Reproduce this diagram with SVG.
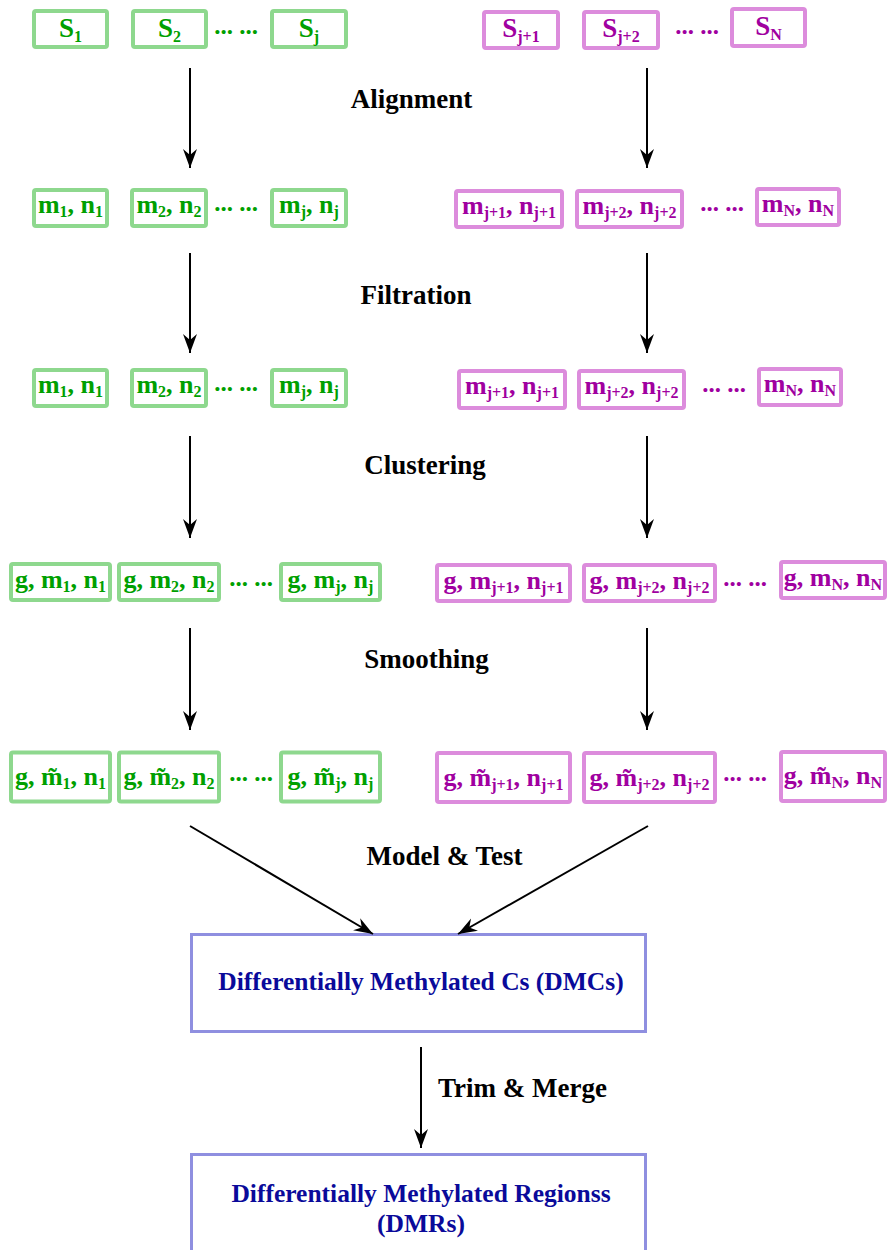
<svg xmlns="http://www.w3.org/2000/svg" width="888" height="1250" viewBox="0 0 888 1250">
<style>
text{font-family:"Liberation Serif","Times New Roman",serif;font-weight:bold}
.g rect{fill:#fff;stroke:#8ed88e;stroke-width:4}
.g text{fill:#00a000;font-size:26px;text-anchor:middle}
.p rect{fill:#fff;stroke:#dc8cdc;stroke-width:4}
.p text{fill:#a000a0;font-size:26px;text-anchor:middle}
.s{font-size:16px}
.big{font-size:27px !important}
.b rect{fill:#fff;stroke:#8f8fe0;stroke-width:3}
.b text{fill:#0a0a9a;font-size:25.5px;text-anchor:middle}
.lab{fill:#000;font-size:27px;text-anchor:middle}
.dg{fill:#00a000;font-size:25px;text-anchor:middle}
.dp{fill:#a000a0;font-size:25px;text-anchor:middle}
.c line{stroke:#000;stroke-width:2;marker-end:url(#ah)}
</style>
<defs>
<marker id="ah" markerUnits="userSpaceOnUse" viewBox="-20 -8 22 16" refX="0" refY="0" markerWidth="22" markerHeight="16" orient="auto">
<path d="M0,0 L-19,-7 L-13,0 L-19,7 Z" fill="#000"/>
</marker>
</defs>
<rect width="888" height="1250" fill="#fff"/>

<!-- Row 1 -->
<g id="s1" class="g"><rect x="34" y="11" width="73" height="36" rx="2"/><text class="big" x="70.5" y="37">S<tspan class="s" dy="5">1</tspan></text></g>
<g id="s2" class="g"><rect x="133" y="11" width="73" height="36" rx="2"/><text class="big" x="169.5" y="37">S<tspan class="s" dy="5">2</tspan></text></g>
<g id="sj" class="g"><rect x="272" y="11" width="74" height="36" rx="2"/><text class="big" x="309" y="37">S<tspan class="s" dy="5">j</tspan></text></g>
<g id="sj1" class="p"><rect x="484" y="12" width="74" height="36" rx="2"/><text class="big" x="521" y="37">S<tspan class="s" dy="5">j+1</tspan></text></g>
<g id="sj2" class="p"><rect x="584" y="12" width="74" height="36" rx="2"/><text class="big" x="621" y="37">S<tspan class="s" dy="5">j+2</tspan></text></g>
<g id="sN" class="p"><rect x="732" y="9" width="73" height="37" rx="2"/><text class="big" x="768.5" y="35">S<tspan class="s" dy="5">N</tspan></text></g>
<text class="dg" x="236" y="34">... ...</text>
<text class="dp" x="697" y="34">... ...</text>

<!-- Row 2 -->
<g id="a1" class="g"><rect x="34" y="190" width="73" height="36" rx="2"/><text x="70.5" y="213">m<tspan class="s" dy="4">1</tspan><tspan dy="-4">, n</tspan><tspan class="s" dy="4">1</tspan></text></g>
<g id="a2" class="g"><rect x="132" y="190" width="74" height="36" rx="2"/><text x="169" y="213">m<tspan class="s" dy="4">2</tspan><tspan dy="-4">, n</tspan><tspan class="s" dy="4">2</tspan></text></g>
<g id="aj" class="g"><rect x="272" y="190" width="74" height="36" rx="2"/><text x="309" y="213">m<tspan class="s" dy="4">j</tspan><tspan dy="-4">, n</tspan><tspan class="s" dy="4">j</tspan></text></g>
<g id="aj1" class="p"><rect x="456" y="191" width="106" height="36" rx="2"/><text x="509" y="214">m<tspan class="s" dy="4">j+1</tspan><tspan dy="-4">, n</tspan><tspan class="s" dy="4">j+1</tspan></text></g>
<g id="aj2" class="p"><rect x="577" y="191" width="105" height="36" rx="2"/><text x="629.5" y="214">m<tspan class="s" dy="4">j+2</tspan><tspan dy="-4">, n</tspan><tspan class="s" dy="4">j+2</tspan></text></g>
<g id="aN" class="p"><rect x="757" y="189" width="82" height="36" rx="2"/><text x="798" y="212">m<tspan class="s" dy="4">N</tspan><tspan dy="-4">, n</tspan><tspan class="s" dy="4">N</tspan></text></g>
<text class="dg" x="236" y="211">... ...</text>
<text class="dp" x="722" y="211">... ...</text>

<!-- Row 3 -->
<g id="f1" class="g"><rect x="34" y="370" width="73" height="36" rx="2"/><text x="70.5" y="393">m<tspan class="s" dy="4">1</tspan><tspan dy="-4">, n</tspan><tspan class="s" dy="4">1</tspan></text></g>
<g id="f2" class="g"><rect x="132" y="370" width="74" height="36" rx="2"/><text x="169" y="393">m<tspan class="s" dy="4">2</tspan><tspan dy="-4">, n</tspan><tspan class="s" dy="4">2</tspan></text></g>
<g id="fj" class="g"><rect x="272" y="370" width="74" height="36" rx="2"/><text x="309" y="393">m<tspan class="s" dy="4">j</tspan><tspan dy="-4">, n</tspan><tspan class="s" dy="4">j</tspan></text></g>
<g id="fj1" class="p"><rect x="459" y="371" width="106" height="37" rx="2"/><text x="512" y="394">m<tspan class="s" dy="4">j+1</tspan><tspan dy="-4">, n</tspan><tspan class="s" dy="4">j+1</tspan></text></g>
<g id="fj2" class="p"><rect x="579" y="371" width="105" height="37" rx="2"/><text x="631.5" y="394">m<tspan class="s" dy="4">j+2</tspan><tspan dy="-4">, n</tspan><tspan class="s" dy="4">j+2</tspan></text></g>
<g id="fN" class="p"><rect x="759" y="369" width="82" height="36" rx="2"/><text x="800" y="392">m<tspan class="s" dy="4">N</tspan><tspan dy="-4">, n</tspan><tspan class="s" dy="4">N</tspan></text></g>
<text class="dg" x="236" y="391">... ...</text>
<text class="dp" x="724" y="392">... ...</text>

<!-- Row 4 -->
<g id="c1" class="g"><rect x="11" y="564" width="99" height="36" rx="2"/><text x="60.5" y="588">g, m<tspan class="s" dy="4">1</tspan><tspan dy="-4">, n</tspan><tspan class="s" dy="4">1</tspan></text></g>
<g id="c2" class="g"><rect x="119" y="564" width="100" height="36" rx="2"/><text x="169" y="588">g, m<tspan class="s" dy="4">2</tspan><tspan dy="-4">, n</tspan><tspan class="s" dy="4">2</tspan></text></g>
<g id="cj" class="g"><rect x="281" y="564" width="99" height="36" rx="2"/><text x="330.5" y="588">g, m<tspan class="s" dy="4">j</tspan><tspan dy="-4">, n</tspan><tspan class="s" dy="4">j</tspan></text></g>
<g id="cj1" class="p"><rect x="437" y="565" width="133" height="36" rx="2"/><text x="503.5" y="589">g, m<tspan class="s" dy="4">j+1</tspan><tspan dy="-4">, n</tspan><tspan class="s" dy="4">j+1</tspan></text></g>
<g id="cj2" class="p"><rect x="584" y="565" width="131" height="36" rx="2"/><text x="649.5" y="589">g, m<tspan class="s" dy="4">j+2</tspan><tspan dy="-4">, n</tspan><tspan class="s" dy="4">j+2</tspan></text></g>
<g id="cN" class="p"><rect x="781" y="562" width="104" height="36" rx="2"/><text x="833" y="586">g, m<tspan class="s" dy="4">N</tspan><tspan dy="-4">, n</tspan><tspan class="s" dy="4">N</tspan></text></g>
<text class="dg" x="251" y="586">... ...</text>
<text class="dp" x="745" y="586">... ...</text>

<!-- Row 5 -->
<g id="m1" class="g"><rect x="11" y="752.5" width="99" height="49" rx="2"/><text x="60.5" y="785">g, m&#771;<tspan class="s" dy="4">1</tspan><tspan dy="-4">, n</tspan><tspan class="s" dy="4">1</tspan></text></g>
<g id="m2" class="g"><rect x="119" y="752.5" width="100" height="49" rx="2"/><text x="169" y="785">g, m&#771;<tspan class="s" dy="4">2</tspan><tspan dy="-4">, n</tspan><tspan class="s" dy="4">2</tspan></text></g>
<g id="mj" class="g"><rect x="281" y="752.5" width="99" height="49" rx="2"/><text x="330.5" y="785">g, m&#771;<tspan class="s" dy="4">j</tspan><tspan dy="-4">, n</tspan><tspan class="s" dy="4">j</tspan></text></g>
<g id="mj1" class="p"><rect x="437" y="753" width="133" height="49" rx="2"/><text x="503.5" y="786">g, m&#771;<tspan class="s" dy="4">j+1</tspan><tspan dy="-4">, n</tspan><tspan class="s" dy="4">j+1</tspan></text></g>
<g id="mj2" class="p"><rect x="584" y="753" width="131" height="49" rx="2"/><text x="649.5" y="786">g, m&#771;<tspan class="s" dy="4">j+2</tspan><tspan dy="-4">, n</tspan><tspan class="s" dy="4">j+2</tspan></text></g>
<g id="mN" class="p"><rect x="781" y="752" width="104" height="49" rx="2"/><text x="833" y="784">g, m&#771;<tspan class="s" dy="4">N</tspan><tspan dy="-4">, n</tspan><tspan class="s" dy="4">N</tspan></text></g>
<text class="dg" x="251" y="781">... ...</text>
<text class="dp" x="745" y="781">... ...</text>

<!-- Result boxes -->
<g id="dmc" class="b"><rect x="191.5" y="934.5" width="454" height="97"/><text x="421" y="990">Differentially Methylated Cs (DMCs)</text></g>
<g id="dmr" class="b"><rect x="191.5" y="1154.5" width="454" height="110"/><text x="421" y="1202">Differentially Methylated Regionss</text><text x="421" y="1232">(DMRs)</text></g>

<!-- Step labels -->
<text class="lab" x="411.5" y="108">Alignment</text>
<text class="lab" x="416" y="304">Filtration</text>
<text class="lab" x="425" y="474">Clustering</text>
<text class="lab" x="426.5" y="668">Smoothing</text>
<text class="lab" x="444.5" y="865">Model &amp; Test</text>
<text class="lab" x="522.5" y="1097">Trim &amp; Merge</text>

<!-- Connectors -->
<g id="connectors" class="c">
<line x1="190" y1="68" x2="190" y2="168"/>
<line x1="647" y1="68" x2="647" y2="168"/>
<line x1="190" y1="253" x2="190" y2="353"/>
<line x1="647" y1="253" x2="647" y2="353"/>
<line x1="190" y1="436" x2="190" y2="538"/>
<line x1="647" y1="436" x2="647" y2="538"/>
<line x1="190" y1="628" x2="190" y2="730"/>
<line x1="647" y1="628" x2="647" y2="730"/>
<line x1="190" y1="826" x2="373" y2="934"/>
<line x1="648" y1="826" x2="458" y2="934"/>
<line x1="421" y1="1047" x2="421" y2="1148"/>
</g>
</svg>
